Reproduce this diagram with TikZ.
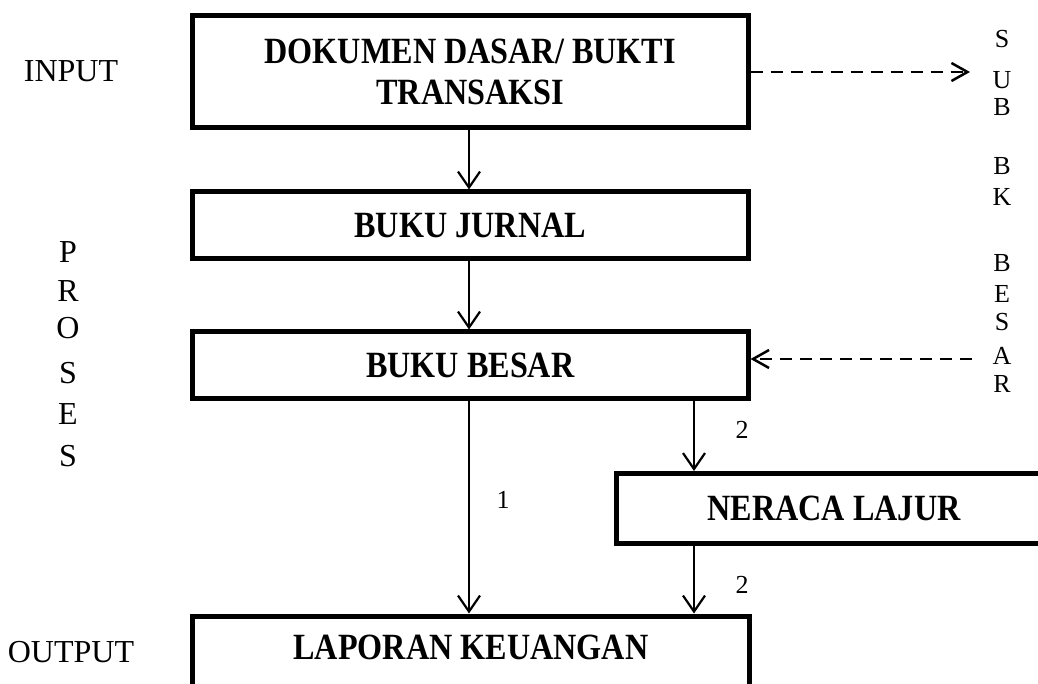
\documentclass[tikz,border=0pt]{standalone}
\usepackage{fontspec}
\setmainfont{Liberation Serif}
\newfontfamily\boxfont{Liberation Serif}[FakeStretch=0.87]
\usetikzlibrary{arrows.meta}
\begin{document}
\begin{tikzpicture}[x=1pt,y=-1pt,
  box/.style={draw=black, line width=5pt, fill=white, inner sep=0pt,
    font=\boxfont\bfseries\fontsize{37}{41}\selectfont, align=center},
  boldtxt/.style={inner sep=0pt, font=\boxfont\bfseries\fontsize{37}{41}\selectfont},
  sidetxt/.style={inner sep=0pt, anchor=base, font=\fontsize{32}{36}\selectfont},
  smalltxt/.style={inner sep=0pt, anchor=base, font=\fontsize{26}{30}\selectfont},
  arr/.style={draw=black, line width=2.2pt, -{Straight Barb[length=16pt,width=22pt]}},
  darr/.style={draw=black, line width=2.5pt, dash pattern=on 12pt off 8pt,
    -{Straight Barb[length=16pt,width=18pt]}}]
\useasboundingbox (0,0) rectangle (1038,684);
\fill[white] (0,0) rectangle (1038,684);
\clip (0,0) rectangle (1038,684);

% boxes
\node[box, minimum width=555.5pt, minimum height=112pt] (dok) at (470.25,72)
  {DOKUMEN DASAR/ BUKTI\\TRANSAKSI};
\node[box, minimum width=555.5pt, minimum height=67pt] (jur) at (470.25,225.5) {BUKU JURNAL};
\node[box, minimum width=555.5pt, minimum height=66pt] (bes) at (470.25,365) {BUKU BESAR};
\node[box, minimum width=436pt, minimum height=69.5pt] (ner) at (834,508.25) {NERACA LAJUR};
\node[box, minimum width=557.5pt, minimum height=90pt, anchor=north] (lap) at (471,613.5) {};
\node[boldtxt] (laptxt) at (471,647) {LAPORAN KEUANGAN};

% side labels
\node[sidetxt] (input) at (71,81.5) {INPUT};
\node[sidetxt] (p1) at (68,262.4) {P};
\node[sidetxt] (p2) at (68,301.4) {R};
\node[sidetxt] (p3) at (68,338.4) {O};
\node[sidetxt] (p4) at (68,383.4) {S};
\node[sidetxt] (p5) at (68,424.4) {E};
\node[sidetxt] (p6) at (68,466.4) {S};
\node[sidetxt] (output) at (71,662.5) {OUTPUT};

% right vertical text
\node[smalltxt] (s1) at (1002,47.6) {S};
\node[smalltxt] (s2) at (1002,88.6) {U};
\node[smalltxt] (s3) at (1002,115.6) {B};
\node[smalltxt] (s4) at (1002,174.6) {B};
\node[smalltxt] (s5) at (1002,205.6) {K};
\node[smalltxt] (s6) at (1002,271.6) {B};
\node[smalltxt] (s7) at (1002,302.6) {E};
\node[smalltxt] (s8) at (1002,330.6) {S};
\node[smalltxt] (s9) at (1002,364.6) {A};
\node[smalltxt] (s10) at (1002,392.6) {R};

% numbers
\node[smalltxt] (n2a) at (742,438.8) {2};
\node[smalltxt] (n1) at (503,508.8) {1};
\node[smalltxt] (n2b) at (742,593.8) {2};

% connectors
\coordinate (colA) at (469,0);
\coordinate (colB) at (694,0);
\coordinate (subA) at (970,72);
\coordinate (subB) at (972,359);
\draw[arr] (dok.south -| colA) -- (jur.north -| colA);
\draw[arr] (jur.south -| colA) -- (bes.north -| colA);
\draw[arr] (bes.south -| colA) -- (lap.north -| colA);
\draw[arr] (bes.south -| colB) -- (ner.north -| colB);
\draw[arr] (ner.south -| colB) -- (lap.north -| colB);
\draw[darr] (dok.east) -- (subA);
\draw[darr] (subB) -- (bes.east |- subB);
\end{tikzpicture}
\end{document}
